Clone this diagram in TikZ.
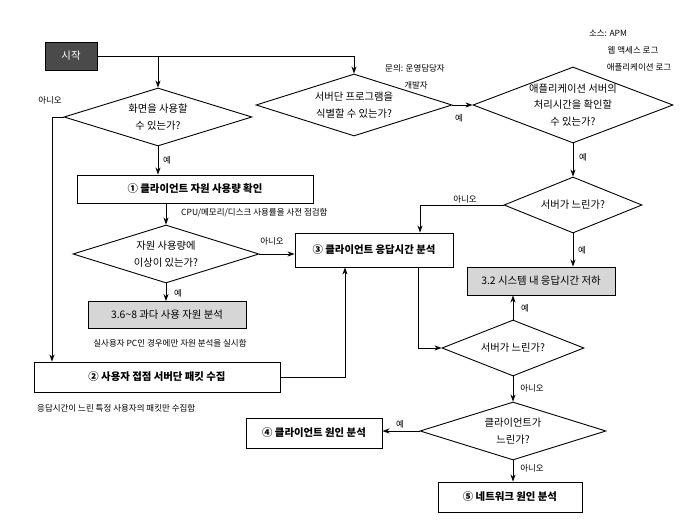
\documentclass[tikz,border=0pt]{standalone}
\usepackage{fontspec}
\setmainfont{Noto Sans CJK KR}
\usetikzlibrary{shapes.geometric,arrows.meta}
\definecolor{boxgray}{HTML}{D6D6D6}
\definecolor{startgray}{HTML}{4A4A4A}
\tikzset{
  conn/.style={line width=0.8pt, -{Stealth[length=7pt,width=5pt]}},
  plain/.style={line width=0.8pt},
  dia/.style={draw, line width=0.9pt, shape=diamond, inner sep=0pt},
  dtext/.style={align=center, font=\fontsize{10.3}{16.5}\selectfont, inner sep=0pt},
  stepbox/.style={draw, line width=0.9pt, rectangle, inner sep=2pt, font=\bfseries\fontsize{10.4}{12}\selectfont},
  graybox/.style={stepbox, fill=boxgray, font=\fontsize{10.4}{12}\selectfont},
  lbl/.style={font=\fontsize{8.5}{10}\selectfont, inner sep=1pt},
}
\begin{document}
\begin{tikzpicture}[x=1pt,y=-1pt]
\useasboundingbox[fill=white] (0,0) rectangle (680,529);

% nodes
\node[draw=black, fill=startgray, text=white, minimum width=52pt, minimum height=28pt, font=\fontsize{10.4}{12}\selectfont] (start) at (71,56) {시작};

\node[dia, minimum width=188pt, minimum height=58pt] (d1) at (158,117) {};
\node[dtext] (t1) at (d1) {화면을 사용할\\수 있는가?};

\node[dia, minimum width=196pt, minimum height=62pt] (d2) at (354,105) {};
\node[dtext] (t2) at (d2) {서버단 프로그램을\\식별할 수 있는가?};

\node[dia, minimum width=200pt, minimum height=76pt] (d3) at (573,105) {};
\node[dtext] (t3) at (d3) {애플리케이션 서버의\\처리시간을 확인할\\수 있는가?};

\node[dia, minimum width=138pt, minimum height=56pt] (d4) at (573,205) {};
\node[dtext] (t4) at (d4) {서버가 느린가?};

\node[graybox, minimum width=148pt, minimum height=28pt] (b32) at (541,281) {3.2 시스템 내 응답시간 저하};

\node[stepbox, minimum width=158pt, minimum height=34pt] (b3) at (374,250) {③ 클라이언트 응답시간 분석};

\node[dia, minimum width=142pt, minimum height=56pt] (d5) at (513,348) {};
\node[dtext] (t5) at (d5) {서버가 느린가?};

\node[dia, minimum width=186pt, minimum height=58pt] (d6) at (513,431) {};
\node[dtext] (t6) at (d6) {클라이언트가\\느린가?};

\node[stepbox, minimum width=136pt, minimum height=30pt] (b4) at (314,433) {④ 클라이언트 원인 분석};
\node[stepbox, minimum width=144pt, minimum height=30pt] (b5) at (510,497) {⑤ 네트워크 원인 분석};

\node[stepbox, minimum width=236pt, minimum height=28pt] (b1) at (195,189) {① 클라이언트 자원 사용량 확인};

\node[dia, minimum width=186pt, minimum height=58pt] (dr) at (166,254) {};
\node[dtext] (tr) at (dr) {자원 사용량에\\이상이 있는가?};

\node[graybox, minimum width=158pt, minimum height=27pt] (b36) at (167,315) {3.6\textasciitilde8 과다 사용 자원 분석};

\node[stepbox, minimum width=246pt, minimum height=30pt] (b2) at (157,377) {② 사용자 접점 서버단 패킷 수집};

% connectors
\draw[conn] (start.east) -| (d2.north);
\draw[conn] (d1.north |- start.east) -- (d1.north);
\draw[conn] (d1.south) -- (d1.south |- b1.north);
\draw[conn] (d1.west) -| ([xshift=-105pt]b2.north);
\draw[conn] (dr.north |- b1.south) -- (dr.north);
\draw[conn] (dr.east) -- (dr.east -| b3.west);
\draw[conn] (dr.south) -- (dr.south |- b36.north);
\draw[conn] (d2.east) -- (d3.west);
\draw[conn] (d3.south) -- (d4.north);
\draw[conn] (d4.west) -| ([xshift=46pt]b3.north);
\draw[conn] (d4.south) -- (d4.south |- b32.north);
\draw[conn] ([xshift=44pt]b3.south) |- (d5.west);
\draw[conn] (b2.east) -| ([xshift=-29pt]b3.south);
\draw[conn] (d5.north) -- (d5.north |- b32.south);
\draw[conn] (d5.south) -- (d6.north);
\draw[conn] (d6.west) -- (d6.west -| b4.east);
\draw[conn] (d6.south) -- (d6.south |- b5.north);

% labels
\node[lbl] (l1) at (50,100) {아니오};
\node[lbl] (l2) at (167,160) {예};
\node[lbl, anchor=west] (l3) at (180,213) {CPU/메모리/디스크 사용률을 사전 점검함};
\node[lbl] (l4) at (272,241) {아니오};
\node[lbl] (l5) at (178,293) {예};
\node[lbl] (l6) at (170,343) {실사용자 PC인 경우에만 자원 분석을 실시함};
\node[lbl, anchor=west] (l7) at (36,408) {응답시간이 느린 특정 사용자의 패킷만 수집함};
\node[lbl] (l8) at (415,68) {문의: 운영담당자};
\node[lbl] (l9) at (416,85) {개발자};
\node[lbl] (l10) at (459,118) {예};
\node[lbl] (l11) at (608,33) {소스: APM};
\node[lbl] (l12) at (633,50) {웹 액세스 로그};
\node[lbl] (l13) at (639,67) {애플리케이션 로그};
\node[lbl] (l14) at (583,157) {예};
\node[lbl] (l15) at (465,199) {아니오};
\node[lbl] (l16) at (582,250) {예};
\node[lbl] (l17) at (525,308) {예};
\node[lbl] (l18) at (532,388) {아니오};
\node[lbl] (l19) at (400,424) {예};
\node[lbl] (l20) at (532,468) {아니오};
\end{tikzpicture}
\end{document}
